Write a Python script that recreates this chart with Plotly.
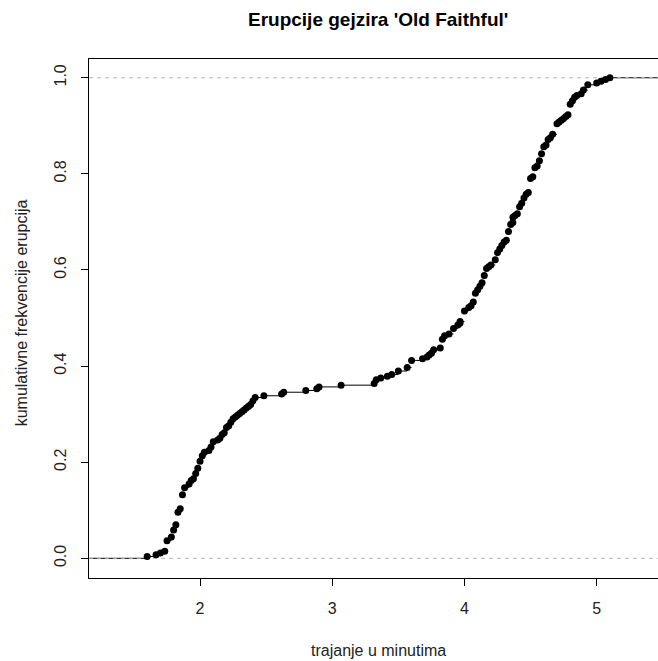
import numpy as np
import plotly.graph_objects as go

# Old Faithful eruption durations (minutes), as plotted in the reference ECDF
eruptions = [
    3.600, 1.800, 3.333, 2.283, 4.533, 2.883, 4.700, 3.600, 1.950, 4.350,
    1.833, 3.917, 4.200, 1.750, 4.700, 2.167, 1.750, 4.800, 1.600, 4.250,
    1.800, 1.750, 3.450, 3.067, 4.533, 3.600, 1.967, 4.083, 3.850, 4.433,
    4.300, 4.467, 3.367, 4.033, 3.833, 2.017, 1.867, 4.833, 1.833, 4.783,
    4.350, 1.883, 4.567, 1.750, 4.533, 3.317, 3.833, 2.100, 4.633, 2.000,
    4.800, 4.716, 1.833, 4.833, 1.733, 4.883, 3.717, 1.667, 4.567, 4.317,
    2.233, 4.500, 1.750, 4.800, 1.817, 4.400, 4.167, 4.700, 2.067, 4.700,
    4.033, 1.967, 4.500, 4.000, 1.983, 5.067, 2.017, 4.567, 3.883, 3.600,
    4.133, 4.333, 4.100, 2.633, 4.067, 4.933, 3.950, 4.517, 2.167, 4.000,
    2.200, 4.333, 1.867, 4.817, 1.833, 4.300, 4.667, 3.750, 1.867, 4.900,
    2.483, 4.367, 2.100, 4.500, 4.050, 1.867, 4.700, 1.783, 4.850, 3.683,
    4.733, 2.300, 4.900, 4.417, 1.700, 4.633, 2.317, 4.600, 1.817, 4.417,
    2.617, 4.067, 4.250, 1.967, 4.600, 3.767, 1.917, 4.500, 2.267, 4.650,
    1.867, 4.167, 2.800, 4.333, 1.833, 4.383, 1.883, 4.933, 2.033, 3.733,
    4.233, 2.233, 4.533, 4.817, 4.333, 1.983, 4.633, 2.017, 5.100, 1.800,
    5.033, 4.000, 2.400, 4.600, 3.567, 4.000, 4.500, 4.083, 1.800, 3.967,
    2.200, 4.150, 2.000, 3.833, 3.500, 4.583, 2.367, 5.000, 1.933, 4.617,
    1.917, 2.083, 4.583, 3.333, 4.167, 4.333, 4.500, 2.417, 4.000, 4.167,
    1.883, 4.583, 4.250, 3.767, 2.033, 4.433, 4.083, 1.833, 4.417, 2.183,
    4.800, 1.833, 4.800, 4.100, 3.966, 4.233, 3.500, 4.366, 2.250, 4.667,
    2.100, 4.350, 4.133, 1.867, 4.600, 1.783, 4.367, 3.850, 1.933, 4.500,
    2.383, 4.700, 1.867, 3.833, 3.417, 4.233, 2.400, 4.800, 2.000, 4.150,
    1.867, 4.267, 1.750, 4.483, 4.000, 4.117, 4.083, 4.267, 3.917, 4.550,
    4.083, 2.417, 4.183, 2.217, 4.450, 1.883, 1.850, 4.283, 3.950, 2.333,
    4.150, 2.350, 4.933, 2.900, 4.583, 3.833, 2.083, 4.367, 2.133, 4.350,
    2.200, 4.450, 3.567, 4.500, 4.150, 3.817, 3.917, 4.450, 2.000, 4.283,
    4.767, 4.533, 1.850, 4.250, 1.983, 2.250, 4.750, 4.117, 2.150, 4.417,
    1.817, 4.467,
]

x_ticks = [2, 3, 4, 5]
y_ticks = [0.0, 0.2, 0.4, 0.6, 0.8, 1.0]
y_tick_labels = ["0.0", "0.2", "0.4", "0.6", "0.8", "1.0"]
title_text = "Erupcije gejzira 'Old Faithful'"
x_title = "trajanje u minutima"
y_title = "kumulativne frekvencije erupcija"

X_RANGE = [1.160, 5.464]
Y_RANGE = [-0.041, 1.039]

# empirical CDF (statistical transform of the raw durations)
vals = np.array(eruptions)
knots, counts = np.unique(vals, return_counts=True)
Fk = np.cumsum(counts) / len(vals)

# horizontal step segments (no verticals, as in plot.stepfun)
seg_x, seg_y = [], []
seg_x += [X_RANGE[0], knots[0], None]
seg_y += [0, 0, None]
for i in range(len(knots)):
    x_end = knots[i + 1] if i + 1 < len(knots) else X_RANGE[1]
    seg_x += [knots[i], x_end, None]
    seg_y += [Fk[i], Fk[i], None]

FONT = "Liberation Sans, Arial, sans-serif"

fig = go.Figure()
fig.add_trace(go.Scatter(x=seg_x, y=seg_y, mode="lines",
                         line=dict(color="black", width=1),
                         hoverinfo="skip", showlegend=False))
for h in [0, 1]:
    fig.add_trace(go.Scatter(x=X_RANGE, y=[h, h], mode="lines",
                             line=dict(color="#b3b3b3", width=1, dash="4px,4px"),
                             hoverinfo="skip", showlegend=False))
fig.add_trace(go.Scatter(x=knots, y=Fk, mode="markers",
                         marker=dict(color="black", size=7, line=dict(width=0)),
                         showlegend=False))

fig.update_layout(
    width=658, height=661,
    margin=dict(l=89, r=0, t=59, b=83),
    paper_bgcolor="white", plot_bgcolor="white",
    font=dict(family=FONT, size=16, color="#222"),
    showlegend=False,
    xaxis=dict(range=X_RANGE, tickvals=x_ticks, ticktext=[str(t) for t in x_ticks],
               showgrid=False, zeroline=False, showline=True, linecolor="black",
               linewidth=1, mirror=True, ticks="outside", ticklen=7,
               tickcolor="black", ticklabelstandoff=9,
               tickfont=dict(size=16, color="#222")),
    yaxis=dict(range=Y_RANGE, tickvals=y_ticks, ticktext=y_tick_labels,
               showgrid=False, zeroline=False, showline=True, linecolor="black",
               linewidth=1, mirror=False, ticks="outside", ticklen=7,
               tickcolor="black", tickangle=-90, ticklabelstandoff=9,
               tickfont=dict(size=16, color="#222")),
    annotations=[
        dict(text="<b>" + title_text + "</b>", xref="paper", yref="paper",
             x=0.508, y=1, yshift=40, xanchor="center", yanchor="middle",
             showarrow=False, font=dict(family=FONT, size=19, color="black")),
        dict(text=x_title, xref="paper", yref="paper", x=0.508, y=0,
             yshift=-72, xanchor="center", yanchor="middle", showarrow=False,
             font=dict(family=FONT, size=16, color="#222")),
        dict(text=y_title, xref="paper", yref="paper", x=0, xshift=-68,
             y=0.51, xanchor="center", yanchor="middle", textangle=-90,
             showarrow=False, font=dict(family=FONT, size=16, color="#222")),
    ],
)

fig.write_html("out.html")
